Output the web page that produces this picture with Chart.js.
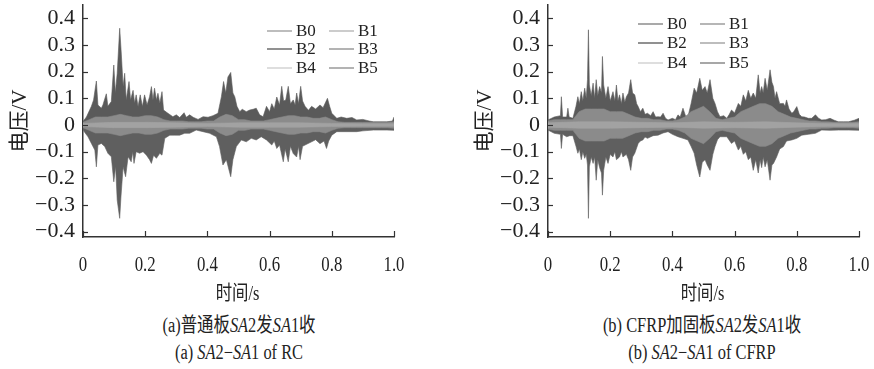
<!DOCTYPE html>
<html>
<head>
<meta charset="utf-8">
<script src="https://cdn.jsdelivr.net/npm/chart.js@4.4.1/dist/chart.umd.min.js"></script>
<style>
  body { margin: 0; background: #fff; width: 874px; height: 369px; overflow: hidden; position: relative;
         font-family: 'Liberation Serif', 'Noto Sans CJK SC', serif; color: #222; }
  .panel { position: absolute; top: 0; height: 310px; }
  .cap { position: absolute; width: 420px; text-align: center; font-size: 20px; line-height: 24px;
         white-space: nowrap; transform: scaleX(0.82); }
</style>
</head>
<body>
<div class="panel" style="left:0;width:437px"><canvas id="chartRC"></canvas></div>
<div class="panel" style="left:465px;width:409px"><canvas id="chartCF"></canvas></div>
<div class="cap" style="left:29px;top:313px">(a)普通板<i>SA</i>2发<i>SA</i>1收</div>
<div class="cap" style="left:29px;top:340px">(a) <i>SA</i>2−<i>SA</i>1 of RC</div>
<div class="cap" style="left:492px;top:313px">(b) CFRP加固板<i>SA</i>2发<i>SA</i>1收</div>
<div class="cap" style="left:492px;top:340px">(b) <i>SA</i>2−<i>SA</i>1 of CFRP</div>
<script>
// series names and legend colours
const seriesNames = ['B0', 'B1', 'B2', 'B3', 'B4', 'B5'];
const legendColorsRC = ['#9a9a9a', '#b0b0b0', '#555555', '#8a8a8a', '#cccccc', '#8a8a8a'];
const legendColorsCF = ['#7a7a7a', '#8e8e8e', '#555555', '#9a9a9a', '#cccccc', '#777777'];

// axes
const xTicks = [0, 0.2, 0.4, 0.6, 0.8, 1.0];
const xTickLabels = ['0', '0.2', '0.4', '0.6', '0.8', '1.0'];
const yTicks = [-0.4, -0.3, -0.2, -0.1, 0, 0.1, 0.2, 0.3, 0.4];
const yTickLabels = ['−0.4', '−0.3', '−0.2', '−0.1', '0', '0.1', '0.2', '0.3', '0.4'];

// (a) RC, B2 (dark) waveform envelope: peaks above zero
const rcUpT = [0, 0.011, 0.027, 0.034, 0.043, 0.048, 0.059, 0.064, 0.075, 0.080,
  0.091, 0.099, 0.104, 0.110, 0.118, 0.123, 0.129, 0.134, 0.139, 0.148,
  0.153, 0.161, 0.166, 0.171, 0.177, 0.184, 0.191, 0.198, 0.206, 0.214,
  0.220, 0.225, 0.230, 0.236, 0.241, 0.247, 0.254, 0.259, 0.273, 0.289,
  0.300, 0.311, 0.325, 0.332, 0.343, 0.354, 0.370, 0.386, 0.402, 0.418,
  0.434, 0.445, 0.452, 0.459, 0.466, 0.475, 0.482, 0.488, 0.495, 0.504,
  0.512, 0.525, 0.536, 0.547, 0.557, 0.568, 0.579, 0.590, 0.600, 0.607,
  0.615, 0.623, 0.632, 0.639, 0.645, 0.652, 0.660, 0.667, 0.676, 0.682,
  0.687, 0.693, 0.700, 0.706, 0.714, 0.725, 0.735, 0.748, 0.762, 0.772,
  0.786, 0.793, 0.800, 0.816, 0.830, 0.848, 0.865, 0.880, 0.900, 0.920,
  0.934, 0.977, 0.995, 1.0];
const rcUp = [0.013, 0.03, 0.07, 0.094, 0.165, 0.075, 0.063, 0.075, 0.117, 0.07,
  0.088, 0.225, 0.12, 0.194, 0.363, 0.27, 0.144, 0.194, 0.094, 0.163,
  0.094, 0.13, 0.082, 0.113, 0.069, 0.113, 0.069, 0.113, 0.075, 0.106,
  0.144, 0.094, 0.138, 0.094, 0.119, 0.082, 0.125, 0.056, 0.044, 0.031,
  0.038, 0.028, 0.046, 0.029, 0.038, 0.029, 0.021, 0.031, 0.029, 0.035,
  0.044, 0.106, 0.163, 0.12, 0.18, 0.197, 0.12, 0.106, 0.07, 0.05,
  0.059, 0.05, 0.056, 0.059, 0.063, 0.038, 0.031, 0.07, 0.05, 0.08,
  0.06, 0.105, 0.075, 0.145, 0.09, 0.094, 0.145, 0.08, 0.094, 0.075,
  0.12, 0.08, 0.145, 0.09, 0.07, 0.055, 0.07, 0.06, 0.075, 0.065,
  0.10, 0.07, 0.044, 0.025, 0.03, 0.025, 0.028, 0.019, 0.021, 0.015,
  0.012, 0.012, 0.015, 0.03];
// (a) RC, B2 envelope: troughs below zero
const rcLowT = [0, 0.016, 0.027, 0.038, 0.043, 0.048, 0.059, 0.070, 0.080, 0.091,
  0.099, 0.105, 0.110, 0.118, 0.122, 0.129, 0.137, 0.145, 0.155, 0.160,
  0.164, 0.171, 0.182, 0.193, 0.204, 0.214, 0.220, 0.227, 0.236, 0.247,
  0.254, 0.263, 0.279, 0.295, 0.311, 0.327, 0.343, 0.364, 0.386, 0.407,
  0.429, 0.439, 0.450, 0.461, 0.475, 0.482, 0.493, 0.509, 0.525, 0.541,
  0.557, 0.573, 0.590, 0.607, 0.615, 0.623, 0.632, 0.644, 0.650, 0.655,
  0.660, 0.667, 0.676, 0.687, 0.693, 0.698, 0.706, 0.714, 0.735, 0.748,
  0.762, 0.775, 0.783, 0.790, 0.800, 0.816, 0.848, 0.880, 0.900, 0.934,
  0.977, 1.0];
const rcLow = [-0.019, -0.044, -0.069, -0.094, -0.157, -0.075, -0.069, -0.081, -0.106, -0.119,
  -0.213, -0.156, -0.282, -0.35, -0.27, -0.157, -0.194, -0.119, -0.138, -0.1,
  -0.144, -0.1, -0.106, -0.1, -0.113, -0.13, -0.144, -0.113, -0.125, -0.106,
  -0.113, -0.05, -0.038, -0.038, -0.038, -0.031, -0.031, -0.019, -0.025, -0.031,
  -0.044, -0.081, -0.15, -0.13, -0.194, -0.13, -0.081, -0.056, -0.063, -0.05,
  -0.056, -0.044, -0.056, -0.075, -0.06, -0.088, -0.075, -0.138, -0.09, -0.113,
  -0.138, -0.08, -0.107, -0.12, -0.08, -0.13, -0.08, -0.075, -0.063, -0.055,
  -0.07, -0.06, -0.088, -0.06, -0.038, -0.025, -0.025, -0.025, -0.022, -0.019,
  -0.019, -0.02];

// (b) CFRP, B2 envelope: peaks
const cfUpT = [0, 0.02, 0.04, 0.043, 0.047, 0.06, 0.064, 0.068, 0.08, 0.09,
  0.096, 0.101, 0.107, 0.112, 0.118, 0.123, 0.127, 0.13, 0.133, 0.139,
  0.145, 0.15, 0.155, 0.16, 0.166, 0.172, 0.175, 0.179, 0.186, 0.193,
  0.2, 0.209, 0.215, 0.22, 0.225, 0.23, 0.236, 0.241, 0.247, 0.252,
  0.259, 0.266, 0.272, 0.279, 0.285, 0.29, 0.297, 0.305, 0.312, 0.32,
  0.33, 0.338, 0.346, 0.354, 0.362, 0.37, 0.378, 0.386, 0.40, 0.41,
  0.418, 0.425, 0.434, 0.442, 0.45, 0.46, 0.47, 0.478, 0.488, 0.496,
  0.505, 0.512, 0.521, 0.53, 0.537, 0.545, 0.553, 0.565, 0.575, 0.583,
  0.59, 0.6, 0.612, 0.62, 0.628, 0.636, 0.644, 0.652, 0.66, 0.668,
  0.676, 0.682, 0.687, 0.692, 0.698, 0.705, 0.714, 0.72, 0.725, 0.73,
  0.735, 0.745, 0.757, 0.762, 0.767, 0.775, 0.784, 0.79, 0.80, 0.808,
  0.816, 0.825, 0.837, 0.848, 0.86, 0.87, 0.88, 0.893, 0.907, 0.92,
  0.934, 0.95, 0.966, 0.985, 1.0];
const cfUp = [0.019, 0.03, 0.035, 0.106, 0.03, 0.03, 0.063, 0.03, 0.025, 0.07,
  0.106, 0.08, 0.125, 0.09, 0.138, 0.1, 0.17, 0.357, 0.15, 0.11,
  0.157, 0.1, 0.17, 0.11, 0.144, 0.12, 0.257, 0.15, 0.1, 0.144,
  0.09, 0.125, 0.09, 0.15, 0.09, 0.113, 0.08, 0.12, 0.085, 0.106,
  0.12, 0.17, 0.12, 0.113, 0.08, 0.069, 0.05, 0.063, 0.04, 0.044,
  0.035, 0.05, 0.03, 0.031, 0.03, 0.044, 0.025, 0.019, 0.025, 0.02,
  0.038, 0.03, 0.063, 0.035, 0.031, 0.08, 0.138, 0.12, 0.175, 0.13,
  0.144, 0.12, 0.17, 0.1, 0.081, 0.05, 0.031, 0.035, 0.025, 0.04,
  0.056, 0.045, 0.081, 0.07, 0.113, 0.09, 0.13, 0.1, 0.12, 0.1,
  0.188, 0.12, 0.144, 0.12, 0.175, 0.13, 0.207, 0.16, 0.144, 0.1,
  0.125, 0.08, 0.081, 0.07, 0.094, 0.06, 0.044, 0.05, 0.069, 0.04,
  0.031, 0.03, 0.025, 0.025, 0.038, 0.025, 0.019, 0.02, 0.025, 0.018,
  0.012, 0.012, 0.012, 0.018, 0.025];
// (b) CFRP, B2 envelope: troughs
const cfLowT = [0, 0.02, 0.04, 0.043, 0.047, 0.06, 0.07, 0.08, 0.09, 0.096,
  0.101, 0.107, 0.112, 0.118, 0.123, 0.127, 0.13, 0.133, 0.139, 0.145,
  0.15, 0.155, 0.16, 0.166, 0.172, 0.175, 0.179, 0.186, 0.193, 0.2,
  0.209, 0.215, 0.22, 0.23, 0.236, 0.241, 0.252, 0.259, 0.266, 0.272,
  0.279, 0.29, 0.297, 0.305, 0.312, 0.32, 0.338, 0.354, 0.37, 0.386,
  0.40, 0.418, 0.434, 0.45, 0.46, 0.47, 0.478, 0.488, 0.496, 0.505,
  0.512, 0.521, 0.53, 0.537, 0.545, 0.553, 0.575, 0.59, 0.6, 0.612,
  0.62, 0.628, 0.636, 0.644, 0.652, 0.66, 0.668, 0.676, 0.682, 0.687,
  0.692, 0.698, 0.705, 0.714, 0.72, 0.725, 0.735, 0.745, 0.757, 0.767,
  0.784, 0.80, 0.816, 0.837, 0.86, 0.88, 0.907, 0.934, 0.966, 1.0];
const cfLow = [-0.019, -0.031, -0.035, -0.088, -0.035, -0.044, -0.04, -0.04, -0.08, -0.106,
  -0.09, -0.13, -0.1, -0.125, -0.11, -0.15, -0.35, -0.157, -0.12, -0.144,
  -0.12, -0.207, -0.13, -0.16, -0.18, -0.263, -0.17, -0.12, -0.144, -0.11,
  -0.12, -0.1, -0.13, -0.12, -0.1, -0.12, -0.11, -0.13, -0.17, -0.12,
  -0.106, -0.069, -0.06, -0.056, -0.045, -0.05, -0.04, -0.038, -0.03, -0.025,
  -0.035, -0.044, -0.05, -0.056, -0.08, -0.106, -0.15, -0.195, -0.14, -0.13,
  -0.15, -0.17, -0.11, -0.081, -0.055, -0.044, -0.044, -0.069, -0.06, -0.094,
  -0.08, -0.11, -0.1, -0.13, -0.12, -0.17, -0.13, -0.18, -0.13, -0.16,
  -0.12, -0.157, -0.13, -0.207, -0.15, -0.144, -0.12, -0.09, -0.081, -0.06,
  -0.056, -0.05, -0.038, -0.035, -0.031, -0.019, -0.02, -0.019, -0.019, -0.02];

// B0 (mid grey) amplitude, read every 0.02 s
const tMid = [0, 0.02, 0.04, 0.06, 0.08, 0.10, 0.12, 0.14, 0.16, 0.18,
  0.20, 0.22, 0.24, 0.26, 0.28, 0.30, 0.32, 0.34, 0.36, 0.38,
  0.40, 0.42, 0.44, 0.46, 0.48, 0.50, 0.52, 0.54, 0.56, 0.58,
  0.60, 0.62, 0.64, 0.66, 0.68, 0.70, 0.72, 0.74, 0.76, 0.78,
  0.80, 0.82, 0.84, 0.86, 0.88, 0.90, 0.92, 0.94, 0.96, 0.98, 1.0];
const rcMid = [0.01, 0.02, 0.03, 0.03, 0.03, 0.035, 0.04, 0.035, 0.03, 0.03,
  0.035, 0.035, 0.03, 0.02, 0.015, 0.015, 0.015, 0.012, 0.012, 0.012,
  0.015, 0.015, 0.03, 0.04, 0.035, 0.02, 0.02, 0.015, 0.015, 0.015,
  0.02, 0.025, 0.03, 0.035, 0.035, 0.03, 0.03, 0.025, 0.025, 0.03,
  0.02, 0.012, 0.01, 0.01, 0.01, 0.01, 0.01, 0.01, 0.01, 0.01, 0.012];
const cfMid = [0.015, 0.02, 0.02, 0.02, 0.02, 0.05, 0.06, 0.06, 0.06, 0.06,
  0.05, 0.05, 0.05, 0.04, 0.03, 0.025, 0.025, 0.02, 0.02, 0.015,
  0.015, 0.02, 0.03, 0.05, 0.06, 0.07, 0.05, 0.025, 0.02, 0.025,
  0.03, 0.05, 0.06, 0.07, 0.08, 0.08, 0.07, 0.05, 0.04, 0.03,
  0.025, 0.02, 0.015, 0.015, 0.012, 0.012, 0.01, 0.01, 0.01, 0.01, 0.012];

// B4 (light) core amplitude, every 0.1 s
const tCore = [0, 0.1, 0.2, 0.3, 0.4, 0.5, 0.6, 0.7, 0.8, 0.9, 1.0];
const rcCore = [0.006, 0.01, 0.01, 0.008, 0.006, 0.008, 0.008, 0.008, 0.006, 0.005, 0.005];
const cfCore = [0.008, 0.012, 0.012, 0.01, 0.008, 0.012, 0.01, 0.012, 0.008, 0.006, 0.006];

const FONT = "'Liberation Serif', 'Noto Sans CJK SC', serif";

// one side of a waveform envelope, filled to the zero line
function side(name, t, v, color) {
    return {
        label: name,
        data: t.map((x, i) => ({ x: x, y: v[i] })),
        fill: 'origin',
        backgroundColor: color,
        borderColor: color,
        borderWidth: 0.6,
        pointRadius: 0
    };
}

// inward ticks, condensed x labels, x title and the 2x3 legend
const decor = {
    id: 'decor',
    afterDraw(chart, args, opts) {
        const { ctx, chartArea: a, scales: { x, y } } = chart;
        ctx.save();
        ctx.strokeStyle = '#333';
        ctx.lineWidth = 1.2;
        x.ticks.forEach((t, i) => {
            const px = Math.round(x.getPixelForTick(i)) + 0.5;
            ctx.beginPath(); ctx.moveTo(px, a.bottom); ctx.lineTo(px, a.bottom - 6); ctx.stroke();
        });
        y.ticks.forEach((t, i) => {
            const py = Math.round(y.getPixelForTick(i)) + 0.5;
            ctx.beginPath(); ctx.moveTo(a.left, py); ctx.lineTo(a.left + 5, py); ctx.stroke();
        });

        ctx.fillStyle = '#222';
        ctx.textAlign = 'center';
        ctx.textBaseline = 'middle';
        ctx.font = '21px ' + FONT;
        x.ticks.forEach((t, i) => {
            ctx.save();
            ctx.translate(x.getPixelForTick(i), a.bottom + 28);
            ctx.scale(0.8, 1);
            ctx.fillText(xTickLabels[i], 0, 0);
            ctx.restore();
        });
        ctx.save();
        ctx.font = '20px ' + FONT;
        ctx.translate((a.left + a.right) / 2 - 1, a.bottom + 58);
        ctx.scale(0.82, 1);
        ctx.fillText('时间/s', 0, 0);
        ctx.restore();

        // legend
        ctx.font = '17px ' + FONT;
        ctx.textAlign = 'left';
        ctx.lineWidth = 1.3;
        seriesNames.forEach((name, i) => {
            const col = i % 2, row = Math.floor(i / 2);
            const lx = a.left + opts.cols[col];
            const ly = opts.rows[row];
            ctx.strokeStyle = opts.colors[i];
            ctx.beginPath(); ctx.moveTo(lx, ly); ctx.lineTo(lx + opts.lineLen, ly); ctx.stroke();
            ctx.fillText(name, lx + opts.lineLen + 4, ly + 1);
        });
        ctx.restore();
    }
};

function makeChart(id, env, mid, core, legendColors, legendCols, legendRows, padRight) {
    // index 0 is drawn last, so the light core sits on top of the dark envelope
    const datasets = [
        side('B4', tCore, core, '#a2a2a2'),
        side('B4-', tCore, core.map(v => -v), '#a2a2a2'),
        side('B0', tMid, mid, '#8b8b8b'),
        side('B0-', tMid, mid.map(v => -v), '#8b8b8b'),
        side('B2', env.upT, env.up, '#5a5a5a'),
        side('B2-', env.lowT, env.low, '#5f5f5f')
    ];
    return new Chart(document.getElementById(id), {
        type: 'line',
        data: { datasets: datasets },
        options: {
            responsive: true,
            maintainAspectRatio: false,
            animation: false,
            layout: { padding: { top: 5, right: padRight, bottom: 0, left: 0 } },
            elements: { line: { tension: 0 } },
            scales: {
                x: {
                    type: 'linear', min: 0, max: 1,
                    border: { display: true, color: '#333', width: 1.5 },
                    grid: { display: false, drawTicks: false },
                    ticks: { color: 'rgba(0,0,0,0)', font: { size: 20 } },
                    afterBuildTicks: s => { s.ticks = xTicks.map(v => ({ value: v })); },
                    afterFit: s => { s.height = 73; s.paddingLeft = 0; s.paddingRight = 0; }
                },
                y: {
                    min: -0.42, max: 0.45,
                    border: { display: true, color: '#333', width: 1.5 },
                    grid: { display: false, drawTicks: false },
                    ticks: {
                        color: '#222', padding: 8, autoSkip: false,
                        font: { family: FONT, size: 22 },
                        callback: (v, i) => yTickLabels[i]
                    },
                    afterBuildTicks: s => { s.ticks = yTicks.map(v => ({ value: v })); },
                    title: { display: true, text: '电压/V', color: '#222',
                             font: { family: FONT, size: 21 }, padding: { top: 8, bottom: 0 } },
                    afterFit: s => { s.width = 83; s.paddingTop = 0; s.paddingBottom = 0; }
                }
            },
            plugins: {
                legend: { display: false },
                tooltip: { enabled: false },
                decor: { colors: legendColors, cols: legendCols, rows: legendRows, lineLen: 25 }
            }
        },
        plugins: [decor]
    });
}

makeChart('chartRC', { upT: rcUpT, up: rcUp, lowT: rcLowT, low: rcLow }, rcMid, rcCore,
    legendColorsRC, [184, 246], [31, 49, 68], 43);
makeChart('chartCF', { upT: cfUpT, up: cfUp, lowT: cfLowT, low: cfLow }, cfMid, cfCore,
    legendColorsCF, [90, 152], [24, 43, 63], 15);
</script>
</body>
</html>
